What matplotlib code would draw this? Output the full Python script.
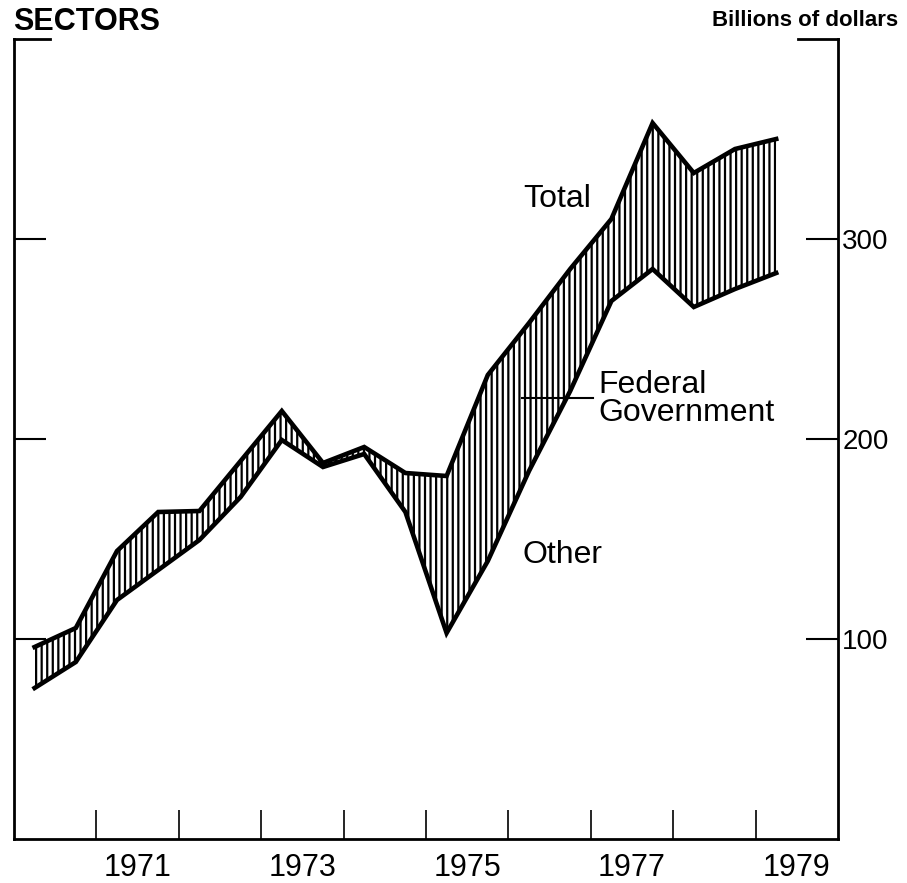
import matplotlib
matplotlib.use("Agg")
import matplotlib.pyplot as plt

plt.rcParams['font.family'] = ['Liberation Sans', 'DejaVu Sans']
plt.rcParams['hatch.color'] = 'black'
plt.rcParams['hatch.linewidth'] = 1.6

# half-year periods (midpoints), 1970 H1 .. 1979 H1
periods = [1970.25, 1970.75, 1971.25, 1971.75, 1972.25, 1972.75, 1973.25,
           1973.75, 1974.25, 1974.75, 1975.25, 1975.75, 1976.25, 1976.75,
           1977.25, 1977.75, 1978.25, 1978.75, 1979.25]

# billions of dollars
total = [96, 105.5, 144, 163.5, 164, 189, 214, 188, 196, 183, 181.5,
         232, 258, 285, 310, 358, 333, 345, 350]
other = [75.5, 88.5, 119.5, 134.5, 149.5, 171, 199.5, 186, 192.5, 163.5,
         103, 139, 184, 224, 269, 285, 266, 275, 283]

year_ticks = [1971, 1972, 1973, 1974, 1975, 1976, 1977, 1978, 1979]
year_labels = ['1971', '1973', '1975', '1977', '1979']
year_label_pos = [1971.5, 1973.5, 1975.5, 1977.5, 1979.5]
y_ticks = [100, 200, 300]

fig = plt.figure(figsize=(9.07, 8.83), dpi=100)
ax = fig.add_axes([14/907, 44/883, 824/907, 800/883])

# Federal Government band (hatched)
ax.fill_between(periods, other, total, facecolor='white', edgecolor='black',
                hatch='|||', linewidth=0)
ax.plot(periods, total, color='black', lw=3.3, solid_joinstyle='miter')
ax.plot(periods, other, color='black', lw=3.3, solid_joinstyle='miter')

ax.set_xlim(1970, 1980)
ax.set_ylim(0, 400)

# spines: no full top spine, only corner stubs
ax.spines['top'].set_visible(False)
for s in ['left', 'right', 'bottom']:
    ax.spines[s].set_linewidth(2)
ax.plot([0, 0.044], [1, 1], transform=ax.transAxes, color='black', lw=2, clip_on=False)
ax.plot([0.951, 1], [1, 1], transform=ax.transAxes, color='black', lw=2, clip_on=False)

ax.set_xticks(year_ticks)
ax.set_xticklabels([])
ax.set_xticks(year_label_pos, minor=True)
ax.set_xticklabels(year_labels, minor=True, fontsize=22)
ax.tick_params(axis='x', which='major', direction='in', length=21, width=1.2)
ax.tick_params(axis='x', which='minor', length=0, pad=10)

ax.set_yticks(y_ticks)
ax.yaxis.set_ticks_position('both')
ax.tick_params(axis='y', direction='in', length=23, width=1.5,
               labelleft=False, labelright=True, labelsize=20, pad=3)

# labels
ax.text(1976.18, 320, 'Total', fontsize=23, ha='left', va='center')
ax.text(1977.09, 220, 'Federal\nGovernment', fontsize=23, ha='left', va='center',
        linespacing=0.93)
ax.text(1976.17, 142, 'Other', fontsize=23, ha='left', va='center')
ax.plot([1976.17, 1977.03], [220.5, 220.5], color='black', lw=1.5)

fig.text(13/907, 1 - 30/883, 'SECTORS', fontsize=22, fontweight='bold',
         ha='left', va='baseline')
fig.text(898/907, 1 - 26/883, 'Billions of dollars', fontsize=16, fontweight='bold',
         ha='right', va='baseline')

fig.savefig('out.png', dpi=100)
